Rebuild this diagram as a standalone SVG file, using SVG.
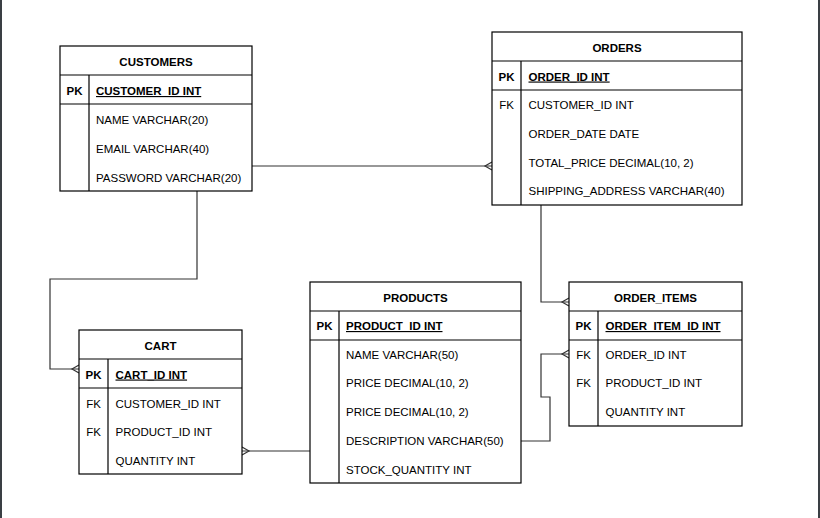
<svg xmlns="http://www.w3.org/2000/svg" width="820" height="518" viewBox="0 0 820 518">
<style>
  .box { fill: #ffffff; stroke: #000000; stroke-width: 1.2; }
  .sep { stroke: #000000; stroke-width: 1.2; fill: none; }
  .t { font-family: "Liberation Sans", Arial, sans-serif; font-size: 11.5px; fill: #000000; }
  .h { font-weight: bold; text-anchor: middle; }
  .k { text-anchor: middle; }
  .pk { font-weight: bold; text-decoration: underline; }
  .kb { font-weight: bold; text-anchor: middle; }
  .conn { stroke: #333333; stroke-width: 1.2; fill: none; }
  .frame { fill: #3a3f44; }
</style>
<rect x="0" y="0" width="820" height="518" fill="#ffffff"/>
<rect class="frame" x="0" y="0" width="2" height="518"/>
<rect class="frame" x="818" y="0" width="2" height="518"/>

<g id="connectors">
  <path class="conn" d="M252,166 H492"/>
  <path class="conn" d="M492,162 L485,166 L492,170"/>
  <path class="conn" d="M197,191 V279 H50 V369 H79"/>
  <path class="conn" d="M79,365 L72,369 L79,373"/>
  <path class="conn" d="M541,205 V302 H569"/>
  <path class="conn" d="M569,298 L562,302 L569,306"/>
  <path class="conn" d="M521,441 H550 V397 H541 V354 H569"/>
  <path class="conn" d="M569,350 L562,354 L569,358"/>
  <path class="conn" d="M242,451 H310"/>
  <path class="conn" d="M242,447 L249,451 L242,455"/>
</g>

<g id="customers">
  <rect class="box" x="60" y="46" width="192" height="145"/>
  <path class="sep" d="M60,75 H252 M60,104 H252 M89,75 V191"/>
  <text class="t h" x="156" y="65.5">CUSTOMERS</text>
  <text class="t kb" x="74.5" y="95">PK</text>
  <text class="t pk" x="96" y="95">CUSTOMER_ID INT</text>
  <text class="t" x="96" y="124">NAME VARCHAR(20)</text>
  <text class="t" x="96" y="153">EMAIL VARCHAR(40)</text>
  <text class="t" x="96" y="182">PASSWORD VARCHAR(20)</text>
</g>

<g id="orders">
  <rect class="box" x="492" y="32" width="250" height="173"/>
  <path class="sep" d="M492,61 H742 M492,90 H742 M521,61 V205"/>
  <text class="t h" x="617" y="51.5">ORDERS</text>
  <text class="t kb" x="506.5" y="80.5">PK</text>
  <text class="t pk" x="528.5" y="80.5">ORDER_ID INT</text>
  <text class="t k" x="506.5" y="109">FK</text>
  <text class="t" x="528.5" y="109">CUSTOMER_ID INT</text>
  <text class="t" x="528.5" y="138">ORDER_DATE DATE</text>
  <text class="t" x="528.5" y="166.5">TOTAL_PRICE DECIMAL(10, 2)</text>
  <text class="t" x="528.5" y="195">SHIPPING_ADDRESS VARCHAR(40)</text>
</g>

<g id="cart">
  <rect class="box" x="79" y="330" width="163" height="144"/>
  <path class="sep" d="M79,359 H242 M79,388 H242 M108,359 V474"/>
  <text class="t h" x="160.5" y="349.5">CART</text>
  <text class="t kb" x="93.5" y="378.5">PK</text>
  <text class="t pk" x="115.5" y="378.5">CART_ID INT</text>
  <text class="t k" x="93.5" y="407.5">FK</text>
  <text class="t" x="115.5" y="407.5">CUSTOMER_ID INT</text>
  <text class="t k" x="93.5" y="436">FK</text>
  <text class="t" x="115.5" y="436">PRODUCT_ID INT</text>
  <text class="t" x="115.5" y="464.5">QUANTITY INT</text>
</g>

<g id="products">
  <rect class="box" x="310" y="282" width="211" height="201"/>
  <path class="sep" d="M310,311 H521 M310,340 H521 M339,311 V483"/>
  <text class="t h" x="415.5" y="301.5">PRODUCTS</text>
  <text class="t kb" x="324.5" y="330">PK</text>
  <text class="t pk" x="346" y="330">PRODUCT_ID INT</text>
  <text class="t" x="346" y="358.5">NAME VARCHAR(50)</text>
  <text class="t" x="346" y="387">PRICE DECIMAL(10, 2)</text>
  <text class="t" x="346" y="416">PRICE DECIMAL(10, 2)</text>
  <text class="t" x="346" y="444.5">DESCRIPTION VARCHAR(50)</text>
  <text class="t" x="346" y="473.5">STOCK_QUANTITY INT</text>
</g>

<g id="order_items">
  <rect class="box" x="569" y="282" width="173" height="144"/>
  <path class="sep" d="M569,311 H742 M569,340 H742 M598,311 V426"/>
  <text class="t h" x="655.5" y="301.5">ORDER_ITEMS</text>
  <text class="t kb" x="583.5" y="330">PK</text>
  <text class="t pk" x="605.5" y="330">ORDER_ITEM_ID INT</text>
  <text class="t k" x="583.5" y="358.5">FK</text>
  <text class="t" x="605.5" y="358.5">ORDER_ID INT</text>
  <text class="t k" x="583.5" y="387">FK</text>
  <text class="t" x="605.5" y="387">PRODUCT_ID INT</text>
  <text class="t" x="605.5" y="416">QUANTITY INT</text>
</g>
</svg>
